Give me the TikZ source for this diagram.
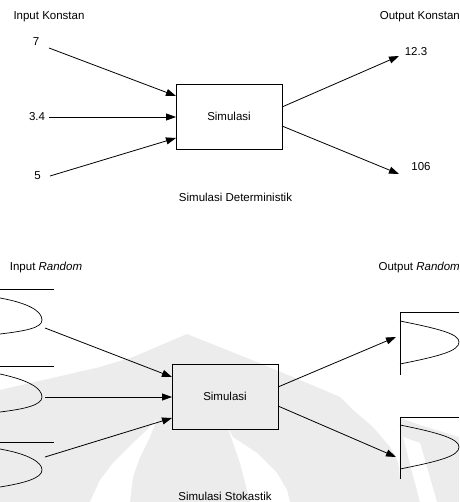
\documentclass[tikz,border=0pt]{standalone}
\usepackage{fontspec}
\setmainfont{Liberation Sans}
\usetikzlibrary{arrows.meta}
\begin{document}
\begin{tikzpicture}[x=1pt,y=-1pt,
  lbl/.style={font=\fontsize{11.5}{13}\selectfont, inner sep=0pt},
  simbox/.style={draw, line width=0.8pt, minimum width=106pt, minimum height=65pt, inner sep=0pt, font=\fontsize{11.5}{13}\selectfont},
  conn/.style={line width=0.8pt, -{Triangle[length=10pt,width=7pt]}},
  dist/.style={line width=0.7pt},
  wm/.style={fill=gray!15, draw=none},
  wmw/.style={fill=white, draw=none}]
\useasboundingbox (0,0) rectangle (459,502);
% watermark
\begin{scope}
\clip (0,0) rectangle (459,502);
\fill[wm] (0,390) -- (100,367) -- (133,357) -- (187,334) -- (257,362) -- (300,380) -- (340,397)
  -- (353,410) -- (373,427) -- (390,447) -- (398,462) -- (403,502) -- (0,502) -- cycle;
\fill[wm] (400,418) -- (420,425) -- (459,437) -- (459,502) -- (400,502) -- cycle;
\fill[wmw] (157,419) -- (150,437) -- (140,457) -- (133,477) -- (130,502) -- (90,502) -- (100,480)
  -- (113,463) -- (133,443) -- (147,430) -- cycle;
\fill[wmw] (228,428) -- (240,463) -- (247,490) -- (250,502) -- (290,502) -- (287,490) -- (277,473)
  -- (257,453) -- (233,437) -- cycle;
\fill[wmw] (403,437) -- (420,443) -- (437,502) -- (420,502) -- cycle;
\end{scope}

% ---- deterministic ----
\node[lbl] (ik) at (49,17) {Input Konstan};
\node[lbl, anchor=east] (ok) at (460,17) {Output Konstan};
\node[lbl] (v7) at (36,42) {7};
\node[lbl] (v34) at (37,117) {3.4};
\node[lbl] (v5) at (37.5,176) {5};
\node[lbl] (v123) at (416,52) {12.3};
\node[lbl] (v106) at (421,167) {106};
\node[simbox] (box1) at (229,116.5) {Simulasi};
\node[lbl] (cap1) at (235.5,197) {Simulasi Deterministik};

\coordinate (s7) at (49,48);
\coordinate (s34) at (49,117);
\coordinate (s5) at (50,176);
\coordinate (e7) at (176,96);
\coordinate (e34) at (176,117);
\coordinate (e5) at (176,138);
\coordinate (o1s) at (282,107);
\coordinate (o2s) at (282,126);
\coordinate (o1e) at (399,56);
\coordinate (o2e) at (399,174);
\draw[conn] (s7) -- (e7);
\draw[conn] (s34) -- (e34);
\draw[conn] (s5) -- (e5);
\draw[conn] (o1s) -- (o1e);
\draw[conn] (o2s) -- (o2e);

% ---- stochastic ----
\node[lbl] (ir) at (46,268) {Input \textit{Random}};
\node[lbl, anchor=east] (or) at (460,268) {Output \textit{Random}};
\node[simbox] (box2) at (225,396.5) {Simulasi};
\node[lbl] (cap2) at (225,496) {Simulasi Stokastik};

% input distributions
\draw[dist] (0,289) -- (54,289);
\draw[dist] (0,298) .. controls (28,303) and (42,311) .. (42,320) .. controls (42,328) and (25,331) .. (0,334);
\draw[dist] (0,366) -- (54,366);
\draw[dist] (0,374) .. controls (28,380) and (42,388) .. (42,397) .. controls (42,405) and (25,409) .. (0,412);
\draw[dist] (0,442) -- (54,442);
\draw[dist] (0,449) .. controls (28,454) and (42,462) .. (42,470) .. controls (42,478) and (25,483) .. (0,487);

% output distributions
\draw[dist] (459,312) -- (400,312) -- (400,375);
\draw[dist] (400,321) .. controls (440,329) and (459,334) .. (459,342) .. controls (459,351) and (440,356) .. (400,364);
\draw[dist] (459,417) -- (400,417) -- (400,479);
\draw[dist] (400,425) .. controls (440,433) and (459,439) .. (459,447) .. controls (459,456) and (440,461) .. (400,469);

\coordinate (a1s) at (45,328);
\coordinate (a2s) at (45,397);
\coordinate (a3s) at (45,457);
\coordinate (a1e) at (172,377);
\coordinate (a2e) at (172,397);
\coordinate (a3e) at (172,418);
\coordinate (b1s) at (278,387);
\coordinate (b2s) at (278,406);
\coordinate (b1e) at (396,337);
\coordinate (b2e) at (396,457);
\draw[conn] (a1s) -- (a1e);
\draw[conn] (a2s) -- (a2e);
\draw[conn] (a3s) -- (a3e);
\draw[conn] (b1s) -- (b1e);
\draw[conn] (b2s) -- (b2e);
\end{tikzpicture}
\end{document}
